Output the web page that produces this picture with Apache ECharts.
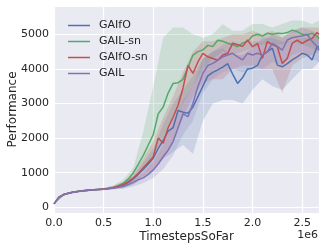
<!DOCTYPE html>
<html><head><meta charset="utf-8">
<script src="https://cdn.jsdelivr.net/npm/echarts@6/dist/echarts.min.js"></script>
<style>html,body{margin:0;padding:0;background:#fff}#c{width:333px;height:250px}</style>
</head><body><div id="c"></div>
<script>
// Line samples (x in units of 1e6 timesteps)
var xs = [0,0.05,0.1,0.15,0.2,0.25,0.3,0.35,0.4,0.45,0.5,0.55,0.6,0.65,0.7,0.75,0.8,0.85,0.9,0.95,1.0,1.05,1.1,1.15,1.2,1.25,1.3,1.35,1.4,1.45,1.5,1.55,1.6,1.65,1.7,1.75,1.8,1.85,1.9,1.95,2.0,2.05,2.1,2.15,2.2,2.25,2.3,2.35,2.4,2.45,2.5,2.55,2.6,2.65,2.67];
var gaifo = [100,290,370,410,440,462,480,495,505,515,525,540,565,600,650,720,830,960,1100,1250,1420,1700,1930,2200,2300,2800,2750,2720,2900,3200,3500,3800,3900,3970,4050,4150,3850,3580,3750,4000,4020,4100,4400,4500,4600,4110,4060,4150,4260,4350,4450,4400,4260,4640,4640];
var gailSn = [100,295,372,412,442,465,483,497,508,518,530,548,575,630,700,820,1000,1250,1500,1800,2100,2700,2900,3300,3580,3600,3700,4050,4400,4500,4550,4680,4650,4830,4800,4740,4700,4640,4750,4790,4950,5000,4950,5030,5000,5030,5020,5050,5120,5080,5000,4980,5030,4950,4880];
var gaifoSn = [100,292,371,411,441,463,481,496,506,516,527,543,570,610,660,740,850,980,1140,1300,1460,2000,1850,2300,2600,2950,3450,4100,3870,4200,4450,4350,4300,4250,4400,4450,4740,4700,4650,4835,4640,4740,4310,4790,4700,4640,4160,4300,4740,4835,4740,4820,4880,5050,5000];
var gail = [100,288,368,408,438,460,478,493,503,513,522,536,558,580,610,660,720,800,850,950,1080,1250,1460,1650,1900,2300,2700,2620,3010,3490,3870,4100,4160,4250,4350,4400,4450,4350,4260,4450,4400,4450,4400,4500,4740,4650,4540,4835,4900,4930,4950,5000,4800,4650,4550];

// Confidence bands (coarser samples)
var bx = [0,0.1,0.2,0.3,0.4,0.5,0.6,0.7,0.8,0.9,1.0,1.1,1.2,1.3,1.4,1.5,1.6,1.7,1.8,1.9,2.0,2.1,2.2,2.3,2.4,2.5,2.6,2.67];
var gaifoLo = [90,340,410,450,480,500,520,540,650,850,1100,1400,1600,1800,1550,2500,3000,3100,3100,3000,3400,3700,3500,3400,3700,4000,4000,4200];
var gaifoHi = [110,400,460,500,530,550,600,700,900,1300,1700,2400,3000,3400,3800,4300,4500,4600,4400,4400,4600,4900,4900,4800,4800,4900,4900,5000];
var gailSnLo = [90,350,420,460,490,510,530,580,750,1100,1500,2000,2600,3000,3500,4000,4300,4500,4400,4500,4600,4700,4700,4700,4800,4700,4600,4500];
var gailSnHi = [110,400,460,500,530,560,640,800,1150,2200,3500,4900,5200,5200,5000,4900,5000,5300,5100,5100,5300,5300,5200,5300,5400,5400,5300,5400];
var gaifoSnLo = [90,350,420,460,490,510,530,580,700,900,1100,1400,1900,2600,3200,3600,3700,3700,4000,4100,4100,4000,4000,3300,4100,4300,4400,4500];
var gaifoSnHi = [110,400,460,500,530,560,620,740,1000,1400,1900,2600,3200,3900,4500,4800,4800,4900,5000,5000,5100,5000,5100,4900,5100,5200,5200,5200];
var gailLo = [90,340,410,450,480,500,520,540,600,700,850,1100,1500,2100,2500,3300,3700,3900,4000,3900,4000,4000,4200,4100,4400,4500,4300,4200];
var gailHi = [110,400,460,500,530,550,600,680,820,1000,1300,1800,2500,3100,3500,4300,4500,4700,4800,4700,4800,4800,5000,4900,5100,5200,5100,5000];

var names = ['GAIfO','GAIL-sn','GAIfO-sn','GAIL'];
var colors = ['#4C72B0','#55A868','#C44E52','#8172B2'];
var lines = [gaifo, gailSn, gaifoSn, gail];
var los = [gaifoLo, gailSnLo, gaifoSnLo, gailLo];
var his = [gaifoHi, gailSnHi, gaifoSnHi, gailHi];

var series = [];
function bandSeries(i) {
  return {type:'custom', silent:true, clip:true, z:1,
    data:[[bx[0], los[i][0]]],
    encode:{x:0, y:1},
    renderItem:function(params, api){
      var pts = [];
      for (var j = 0; j < bx.length; j++) pts.push(api.coord([bx[j], his[i][j]]));
      for (var j2 = bx.length - 1; j2 >= 0; j2--) pts.push(api.coord([bx[j2], los[i][j2]]));
      return {type:'polygon', shape:{points:pts}, style:{fill:colors[i], opacity:0.2}};
    }};
}
for (var i = 0; i < 4; i++) series.push(bandSeries(i));
for (var k = 0; k < 4; k++) {
  series.push({type:'line', name:names[k], symbol:'none', showSymbol:false, color:colors[k],
    data: xs.map(function(x,j){return [x, lines[k][j]];}),
    lineStyle:{width:1.5, color:colors[k]}, z:3});
}

var txt = '#262626';
var font = 'DejaVu Sans';
var chart = echarts.init(document.getElementById('c'));
chart.setOption({
  animation:false,
  backgroundColor:'#ffffff',
  grid:{left:54, right:14, top:6, bottom:37, show:true, backgroundColor:'#EAEAF2', borderWidth:0,
    containLabel:false, outerBoundsMode:'none'},
  legend:{data:names, orient:'vertical', left:63, top:15, icon:'rect', itemWidth:22, itemHeight:1.5, itemGap:5,
    textStyle:{color:txt, fontFamily:font, fontSize:11, lineHeight:11, padding:[0,0,0,4]}},
  xAxis:{type:'value', min:0, max:2.67, interval:0.5,
    name:'TimestepsSoFar', nameLocation:'middle', nameGap:18, nameMoveOverlap:false,
    nameTextStyle:{color:txt, fontFamily:font, fontSize:12},
    axisLine:{show:false}, axisTick:{show:false},
    axisLabel:{color:txt, fontFamily:font, fontSize:11, margin:5,
      formatter:function(v){return Math.abs(v/0.5 - Math.round(v/0.5))<1e-6 ? v.toFixed(1) : '';}},
    splitLine:{lineStyle:{color:'#ffffff', width:1.2}}},
  yAxis:{type:'value', min:-165, max:5818, splitNumber:6,
    name:'Performance', nameLocation:'middle', nameGap:35, nameMoveOverlap:false,
    nameTextStyle:{color:txt, fontFamily:font, fontSize:12},
    axisLine:{show:false}, axisTick:{show:false},
    axisLabel:{color:txt, fontFamily:font, fontSize:11, margin:5,
      formatter:function(v){return (v % 1000 === 0) ? String(v) : '';}},
    splitLine:{lineStyle:{color:'#ffffff', width:1.2}}},
  graphic:[{type:'text', right:15, top:230, style:{text:'1e6', fill:txt, font:'11px "DejaVu Sans"'}}],
  series:series
});
</script></body></html>
